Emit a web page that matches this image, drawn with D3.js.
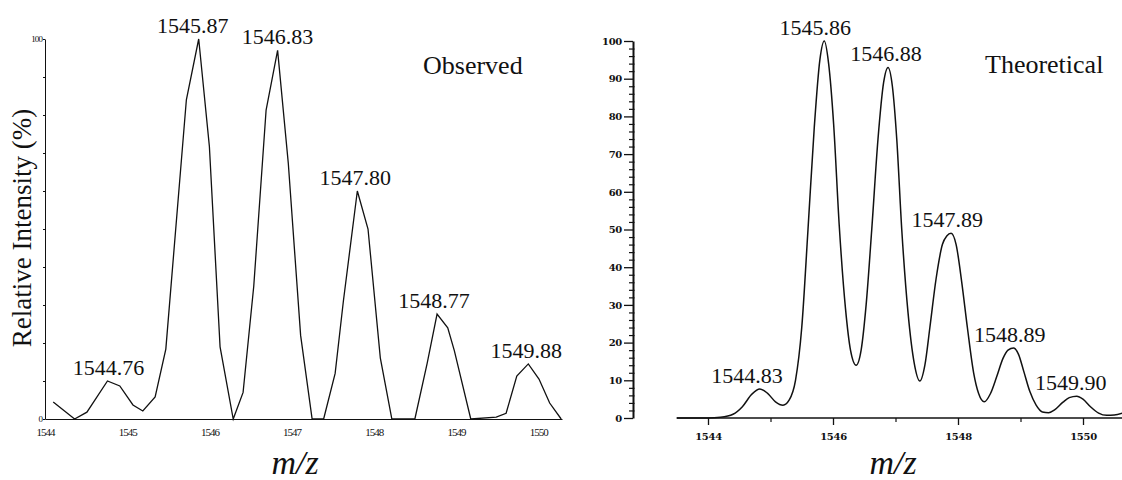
<!DOCTYPE html>
<html>
<head>
<meta charset="utf-8">
<script src="https://cdn.jsdelivr.net/npm/d3@7"></script>
<style>
  html, body { margin: 0; padding: 0; background: #fff; }
  svg { display: block; }
  svg text { font-family: "Liberation Serif", "Times New Roman", Times, serif; fill: #111; }
  svg text.tick-r { font-family: "DejaVu Serif", serif; font-weight: bold; }
</style>
</head>
<body>
<svg id="chart" width="1122" height="480"></svg>
<script>
// Observed isotope envelope (m/z, relative intensity %)
const observedMz = [1544.10, 1544.36, 1544.51, 1544.76, 1544.91, 1545.07, 1545.19, 1545.34, 1545.47,
  1545.72, 1545.87, 1546.00, 1546.13, 1546.29, 1546.41, 1546.54, 1546.69, 1546.83, 1546.96, 1547.11,
  1547.25, 1547.39, 1547.53, 1547.63, 1547.80, 1547.93, 1548.08, 1548.22, 1548.50, 1548.65, 1548.77,
  1548.90, 1548.98, 1549.18, 1549.49, 1549.61, 1549.74, 1549.88, 1550.01, 1550.14, 1550.28];
const observedInt = [4.5, 0, 1.8, 10, 8.7, 3.7, 2.1, 5.8, 18.4,
  84, 100, 71.7, 19, 0, 7, 35, 81.3, 97, 67.3, 22,
  0, 0, 12, 31, 60, 50, 16, 0, 0, 14.7, 27.6,
  24, 18, 0, 0.5, 1.5, 11.3, 14.5, 10.5, 4.2, 0];

// Theoretical isotope envelope (m/z, relative intensity %)
const theoreticalMz = [1543.50, 1544.00, 1544.20, 1544.40, 1544.55, 1544.70, 1544.83, 1544.95, 1545.08,
  1545.20, 1545.30, 1545.40, 1545.50, 1545.60, 1545.70, 1545.79, 1545.86, 1545.93, 1546.01, 1546.10,
  1546.20, 1546.28, 1546.37, 1546.45, 1546.53, 1546.62, 1546.72, 1546.81, 1546.88, 1546.95, 1547.02,
  1547.10, 1547.20, 1547.30, 1547.39, 1547.47, 1547.55, 1547.65, 1547.75, 1547.82, 1547.89, 1547.97,
  1548.06, 1548.15, 1548.25, 1548.33, 1548.42, 1548.52, 1548.62, 1548.72, 1548.80, 1548.89, 1548.97,
  1549.05, 1549.15, 1549.25, 1549.35, 1549.45, 1549.55, 1549.68, 1549.78, 1549.90, 1550.00, 1550.12,
  1550.25, 1550.38, 1550.50, 1550.65];
const theoreticalInt = [0, 0, 0.2, 1.0, 3.0, 6.3, 7.7, 6.6, 4.3,
  3.4, 4.8, 10, 24, 50, 77, 95, 100, 94, 78, 51,
  29, 18, 14, 18, 30, 50, 74, 89, 93, 88, 74,
  50, 28, 14.5, 9.8, 14, 24, 37, 46, 48.3, 49, 46,
  36, 24, 12, 6.5, 4.3, 6.5, 11, 15.8, 18, 18.6, 16.8,
  12.5, 7, 3.4, 1.6, 1.4, 2.2, 4.2, 5.4, 5.8, 5.0, 3.0,
  1.3, 0.7, 0.8, 1.4];

// Annotated peak maxima
const observedPeakLabels = ["1544.76", "1545.87", "1546.83", "1547.80", "1548.77", "1549.88"];
const observedPeakInt = [10, 100, 97, 60, 27.6, 14.5];
const theoreticalPeakLabels = ["1544.83", "1545.86", "1546.88", "1547.89", "1548.89", "1549.90"];
const theoreticalPeakInt = [7.7, 100, 93, 49, 18.6, 5.8];

// Axis ticks
const observedXTicks = [1544, 1545, 1546, 1547, 1548, 1549, 1550];
const observedYTicks = [0, 10, 20, 30, 40, 50, 60, 70, 80, 90, 100];
const theoreticalXMajor = [1544, 1546, 1548, 1550];
const theoreticalXMinor = [1545, 1547, 1549];
const theoreticalYMajor = [0, 10, 20, 30, 40, 50, 60, 70, 80, 90, 100];

const svg = d3.select("#chart");

// ---------- Left panel: observed ----------
const xL = d3.scaleLinear().domain([1544, 1550.29]).range([45, 562]);
const yL = d3.scaleLinear().domain([0, 100]).range([419, 39]);

const gyL = svg.append("g").attr("transform", `translate(${xL(1544)},0)`)
  .call(d3.axisLeft(yL).tickValues(observedYTicks).tickSize(2).tickSizeOuter(0).tickPadding(1)
    .tickFormat(d => (d === 0 || d === 100) ? d : ""));
gyL.attr("font-family", null);
gyL.selectAll("text").style("font-size", "9px").style("letter-spacing", "-0.9px");
gyL.selectAll("path, line").attr("stroke", "#111").attr("stroke-width", 1);

const gxL = svg.append("g").attr("transform", `translate(0,${yL(0)})`)
  .call(d3.axisBottom(xL).tickValues(observedXTicks).tickSize(0).tickSizeOuter(0).tickPadding(9)
    .tickFormat(d3.format("d")));
gxL.attr("font-family", null);
gxL.selectAll("text").style("font-size", "11px").style("letter-spacing", "-1px");
gxL.selectAll("path").attr("stroke", "#111").attr("stroke-width", 1.2);

const lineL = d3.line().x((d, i) => xL(observedMz[i])).y(d => yL(d));
svg.append("path").datum(observedInt)
  .attr("d", lineL).attr("fill", "none").attr("stroke", "#111")
  .attr("stroke-width", 1.3).attr("stroke-linejoin", "miter");

const obsLabelShift = [1, -6, 0, -2, -3, -2];
svg.append("g").selectAll("text").data(observedPeakLabels).join("text")
  .attr("x", (d, i) => xL(+d) + obsLabelShift[i])
  .attr("y", (d, i) => yL(observedPeakInt[i]) - 6)
  .attr("text-anchor", "middle")
  .style("font-size", "22px")
  .text(d => d);

svg.append("text").attr("x", 423).attr("y", 74)
  .style("font-size", "26px")
  .text("Observed");

svg.append("text")
  .attr("transform", "translate(31,228) rotate(-90)")
  .attr("text-anchor", "middle")
  .style("font-size", "27px")
  .text("Relative Intensity (%)");

svg.append("text").attr("x", 295).attr("y", 474).attr("text-anchor", "middle")
  .style("font-size", "34px").style("font-style", "italic")
  .text("m/z");

// ---------- Right panel: theoretical ----------
const xR = d3.scaleLinear().domain([1544, 1550]).range([708, 1083]);
const yR = d3.scaleLinear().domain([0, 100]).range([418, 41]);
const axisX = 633;

const minorY = d3.range(0, 101, 2).filter(v => v % 10 !== 0);
const gyRm = svg.append("g").attr("transform", `translate(${axisX},0)`)
  .call(d3.axisLeft(yR).tickValues(minorY).tickSize(4).tickSizeOuter(0).tickFormat(""));
gyRm.select(".domain").remove();
gyRm.selectAll("line").attr("stroke", "#111").attr("stroke-width", 1.2).attr("x2", -4).attr("x1", 1.5);

const gyR = svg.append("g").attr("transform", `translate(${axisX},0)`)
  .call(d3.axisLeft(yR).tickValues(theoreticalYMajor).tickSize(9).tickSizeOuter(0).tickPadding(2));
gyR.attr("font-family", null);
gyR.selectAll("text").attr("class", "tick-r").style("font-size", "10px").style("letter-spacing", "-0.3px");
gyR.selectAll("line").attr("stroke", "#111").attr("stroke-width", 1.3);
gyR.select(".domain").attr("stroke", "#111").attr("stroke-width", 2);

// x baseline spans beyond the labelled ticks
svg.append("line")
  .attr("x1", xR(1543.5)).attr("x2", xR(1550.7))
  .attr("y1", yR(0)).attr("y2", yR(0))
  .attr("stroke", "#111").attr("stroke-width", 1.4);

const gxRm = svg.append("g").attr("transform", `translate(0,${yR(0)})`)
  .call(d3.axisBottom(xR).tickValues(theoreticalXMinor).tickSize(4).tickSizeOuter(0).tickFormat(""));
gxRm.select(".domain").remove();
gxRm.selectAll("line").attr("stroke", "#111").attr("stroke-width", 1.2);

const gxR = svg.append("g").attr("transform", `translate(0,${yR(0)})`)
  .call(d3.axisBottom(xR).tickValues(theoreticalXMajor).tickSize(7).tickSizeOuter(0).tickPadding(8)
    .tickFormat(d3.format("d")));
gxR.attr("font-family", null);
gxR.select(".domain").remove();
gxR.selectAll("line").attr("stroke", "#111").attr("stroke-width", 1.3);
gxR.selectAll("text").attr("class", "tick-r").style("font-size", "10px").style("letter-spacing", "-0.3px");

const lineR = d3.line().x((d, i) => xR(theoreticalMz[i])).y(d => yR(d)).curve(d3.curveMonotoneX);
svg.append("path").datum(theoreticalInt)
  .attr("d", lineR).attr("fill", "none").attr("stroke", "#111").attr("stroke-width", 1.5);

const theoLabelShift = [-13, -9, -2, -4, -4, -6];
svg.append("g").selectAll("text").data(theoreticalPeakLabels).join("text")
  .attr("x", (d, i) => xR(+d) + theoLabelShift[i])
  .attr("y", (d, i) => yR(theoreticalPeakInt[i]) - 6)
  .attr("text-anchor", "middle")
  .style("font-size", "22px")
  .text(d => d);

svg.append("text").attr("x", 985).attr("y", 73)
  .style("font-size", "26px")
  .text("Theoretical");

svg.append("text").attr("x", 893).attr("y", 474).attr("text-anchor", "middle")
  .style("font-size", "34px").style("font-style", "italic")
  .text("m/z");
</script>
</body>
</html>
